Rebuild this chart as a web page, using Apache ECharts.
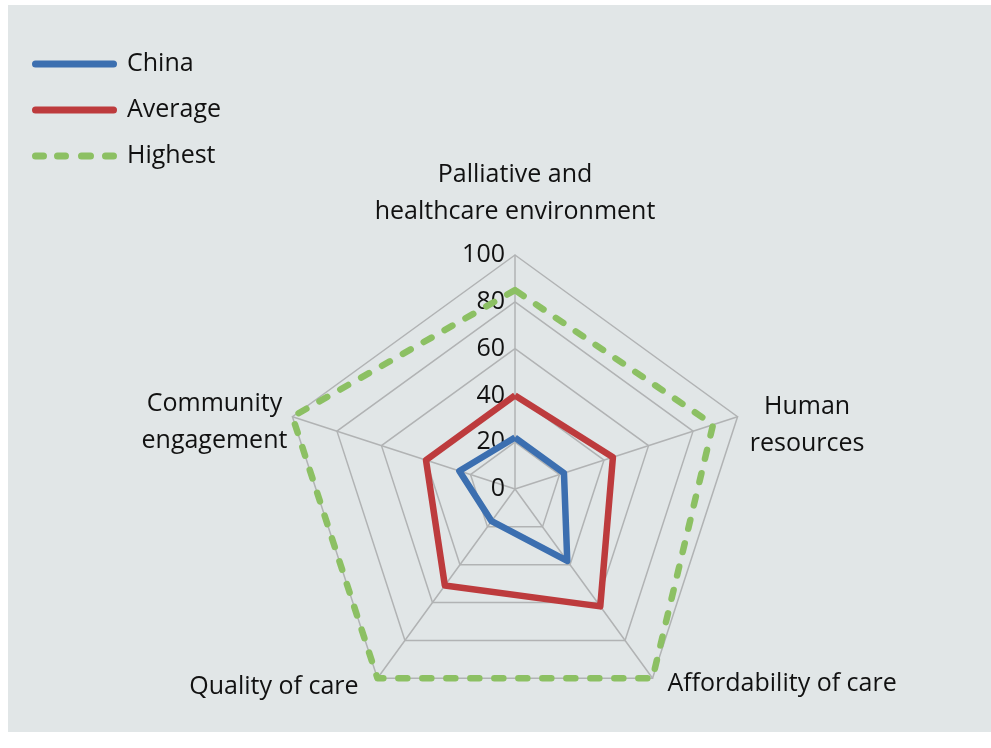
<!DOCTYPE html>
<html>
<head>
<meta charset="utf-8">
<script src="https://cdn.jsdelivr.net/npm/echarts@6/dist/echarts.min.js"></script>
<style>
html,body{margin:0;padding:0;background:#ffffff;}
#chart{position:absolute;left:8px;top:5px;width:983px;height:727px;}
</style>
</head>
<body>
<div id="chart"></div>
<script>
// Indicators in ECharts' default (counter-clockwise from top) order
const indicatorNames = ['Palliative and\nhealthcare environment', 'Community\nengagement', 'Quality of care', 'Affordability of care', 'Human\nresources'];
const indicatorMax = [100, 100, 100, 100, 100];
const seriesNames = ['China', 'Average', 'Highest'];
const china = [22, 25, 17, 38, 22];
const average = [40, 40, 51, 62, 44];
const highest = [85, 100, 100, 100, 89];

const colors = {China: '#3c6fb0', Average: '#bd3b3d', Highest: '#8cc063'};
const solidIcon = 'path://M3.5,0H81.5A3.5,3.5,0,0,1,81.5,7H3.5A3.5,3.5,0,0,1,3.5,0Z';
const dashIcon = 'path://M3.5,0H11.5A3.5,3.5,0,0,1,11.5,7H3.5A3.5,3.5,0,0,1,3.5,0Z' +
  'M25.5,0H33.5A3.5,3.5,0,0,1,33.5,7H25.5A3.5,3.5,0,0,1,25.5,0Z' +
  'M49.5,0H58.5A3.5,3.5,0,0,1,58.5,7H49.5A3.5,3.5,0,0,1,49.5,0Z' +
  'M73.5,0H81.5A3.5,3.5,0,0,1,81.5,7H73.5A3.5,3.5,0,0,1,73.5,0Z';

const font = 'Open Sans';
const nameRich = {
  t0: {width: 300, align: 'center', padding: [0, 0, 24, 0]},
  t1: {width: 300, align: 'center', padding: [0, 0, 24, 0]},
  c0: {width: 156, align: 'center', padding: [12, 0, 0, 0]},
  c1: {width: 156, align: 'center', padding: [12, 0, 0, 0]},
  q0: {padding: [0, 13, 0, 0]},
  a0: {padding: [0, 0, 6, 9]},
  h0: {width: 120, align: 'center', padding: [24, 0, 0, 0]},
  h1: {width: 120, align: 'center', padding: [24, 0, 0, 0]}
};
const nameKeys = ['t', 'c', 'q', 'a', 'h'];

const chart = echarts.init(document.getElementById('chart'));
chart.setOption({
  backgroundColor: '#e1e6e7',
  animation: false,
  legend: {
    orient: 'vertical',
    left: 19,
    top: 39,
    itemWidth: 85,
    itemHeight: 7,
    itemGap: 16,
    itemStyle: {borderWidth: 0},
    textStyle: {fontFamily: font, fontSize: 25, color: '#111', lineHeight: 30, padding: [0, 0, 0, 5]},
    data: [
      {name: seriesNames[0], icon: solidIcon},
      {name: seriesNames[1], icon: solidIcon},
      {name: seriesNames[2], icon: dashIcon}
    ]
  },
  radar: {
    center: [507, 484],
    radius: 234,
    startAngle: 90,
    splitNumber: 5,
    shape: 'polygon',
    nameGap: 10,
    axisName: {
      color: '#111',
      fontFamily: font,
      fontSize: 25,
      lineHeight: 37,
      rich: nameRich,
      formatter: function (value) {
        const k = nameKeys[indicatorNames.indexOf(value)];
        return value.split('\n').map(function (l, i) { return '{' + k + i + '|' + l + '}'; }).join('\n');
      }
    },
    indicator: indicatorNames.map(function (n, i) {
      const o = {name: n, min: 0, max: indicatorMax[i]};
      if (i === 0) o.axisLabel = {show: true};
      if (i === 1) o.nameGap = 0;
      return o;
    }),
    axisLabel: {show: false, color: '#111', fontFamily: font, fontSize: 25, margin: 10, showMinLabel: true, showMaxLabel: true},
    axisTick: {show: false},
    axisLine: {lineStyle: {color: '#b1b3b4', width: 1.5}},
    splitLine: {lineStyle: {color: '#b1b3b4', width: 1.5}},
    splitArea: {show: false}
  },
  series: [{
    type: 'radar',
    symbol: 'none',
    data: [
      {name: seriesNames[0], value: china, itemStyle: {color: colors.China}, lineStyle: {color: colors.China, width: 6.5}},
      {name: seriesNames[1], value: average, itemStyle: {color: colors.Average}, lineStyle: {color: colors.Average, width: 6.5}},
      {name: seriesNames[2], value: highest, itemStyle: {color: colors.Highest}, lineStyle: {color: colors.Highest, width: 6.5, type: [9, 15], cap: 'round', join: 'round'}}
    ]
  }]
});
</script>
</body>
</html>
